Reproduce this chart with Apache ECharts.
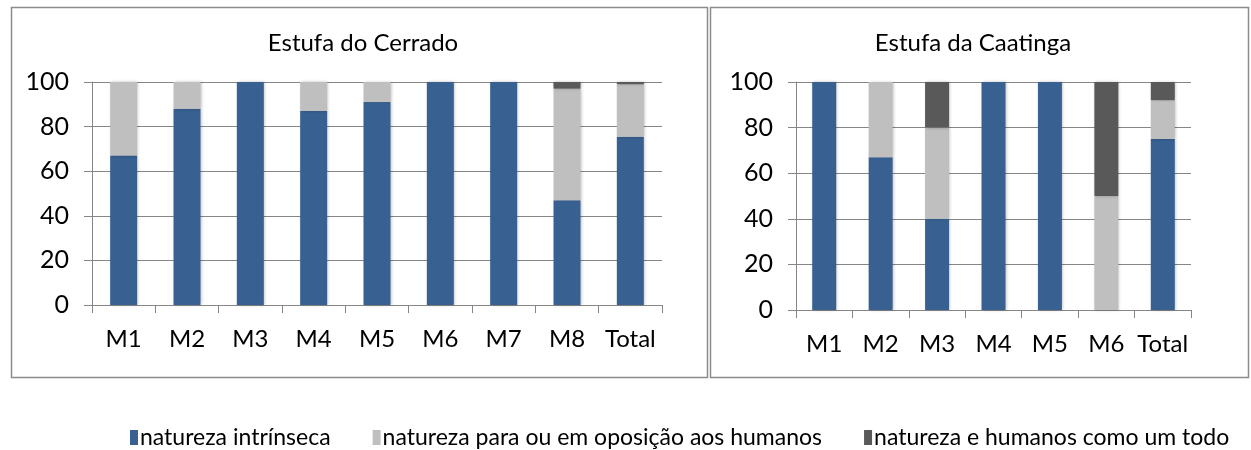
<!DOCTYPE html>
<html>
<head>
<meta charset="utf-8">
<script src="https://cdn.jsdelivr.net/npm/echarts@6/dist/echarts.min.js"></script>
<style>
  html, body { margin: 0; padding: 0; background: #fff; }
  #chart { width: 1251px; height: 450px; }
</style>
</head>
<body>
<div id="chart"></div>
<script>
// categorias
const cerradoCats = ['M1', 'M2', 'M3', 'M4', 'M5', 'M6', 'M7', 'M8', 'Total']
const caatingaCats = ['M1', 'M2', 'M3', 'M4', 'M5', 'M6', 'Total']

// séries (%)
const cerradoIntrinseca = [67, 88, 100, 87, 91, 100, 100, 47, 75.5]
const cerradoOposicao = [33, 12, 0, 13, 9, 0, 0, 50, 23.5]
const cerradoTodo = [0, 0, 0, 0, 0, 0, 0, 3, 1]

const caatingaIntrinseca = [100, 67, 40, 100, 100, 0, 75]
const caatingaOposicao = [0, 33, 40, 0, 0, 50, 17]
const caatingaTodo = [0, 0, 20, 0, 0, 50, 8]

const yTicks = [0, 20, 40, 60, 80, 100]

const seriesNames = ['natureza intrínseca', 'natureza para ou em oposição aos humanos', 'natureza e humanos como um todo']
const colors = ['#386192', '#bfbfbf', '#595959']

const font = 'Lato, "Open Sans", sans-serif'
const axisGray = '#868686'

const makeX = (cats, idx) => ({
  type: 'category',
  gridIndex: idx,
  data: cats,
  axisLine: { lineStyle: { color: axisGray } },
  axisTick: { show: true, length: 8, lineStyle: { color: axisGray } },
  axisLabel: { color: '#000', fontSize: 24, fontFamily: font, margin: 22, interval: 0 }
})

const makeY = (idx) => ({
  type: 'value',
  gridIndex: idx,
  min: 0,
  max: 100,
  interval: 20,
  axisLine: { show: true, lineStyle: { color: axisGray } },
  axisTick: { show: true, length: 8, lineStyle: { color: axisGray } },
  splitLine: { lineStyle: { color: axisGray } },
  axisLabel: { color: '#000', fontSize: 25, fontFamily: font, margin: 23,
    formatter: (v) => (yTicks.includes(v) ? String(v) : '') }
})

const makeBar = (name, data, idx, stack, ci, width) => ({
  name,
  type: 'bar',
  xAxisIndex: idx,
  yAxisIndex: idx,
  stack,
  data,
  barWidth: width,
  itemStyle: { color: colors[ci], shadowColor: 'rgba(0,0,0,0.25)', shadowBlur: 3, shadowOffsetX: 1 }
})

const chart = echarts.init(document.getElementById('chart'))
chart.setOption({
  animation: false,
  title: [
    { text: 'Estufa do Cerrado', left: 358, top: 26, textAlign: 'center',
      textStyle: { fontSize: 24, fontWeight: 'normal', color: '#000', fontFamily: font } },
    { text: 'Estufa da Caatinga', left: 968, top: 26, textAlign: 'center',
      textStyle: { fontSize: 24, fontWeight: 'normal', color: '#000', fontFamily: font } }
  ],
  legend: {
    data: seriesNames,
    top: 421,
    left: 125,
    icon: 'rect',
    itemWidth: 8,
    itemHeight: 15,
    itemGap: 42,
    textStyle: { fontSize: 23, color: '#000', fontFamily: font, padding: [0, 0, 0, -3] }
  },
  graphic: [
    { type: 'rect', shape: { x: 11.5, y: 7.5, width: 696, height: 370 },
      style: { fill: 'none', stroke: '#8c8c8c', lineWidth: 1.5 } },
    { type: 'rect', shape: { x: 710.5, y: 7.5, width: 538, height: 370 },
      style: { fill: 'none', stroke: '#8c8c8c', lineWidth: 1.5 } }
  ],
  grid: [
    { left: 92, top: 82, width: 570, height: 223 },
    { left: 796, top: 82, width: 395, height: 228 }
  ],
  xAxis: [makeX(cerradoCats, 0), makeX(caatingaCats, 1)],
  yAxis: [makeY(0), makeY(1)],
  series: [
    makeBar(seriesNames[0], cerradoIntrinseca, 0, 'c', 0, 27),
    makeBar(seriesNames[1], cerradoOposicao, 0, 'c', 1, 27),
    makeBar(seriesNames[2], cerradoTodo, 0, 'c', 2, 27),
    makeBar(seriesNames[0], caatingaIntrinseca, 1, 'k', 0, 24),
    makeBar(seriesNames[1], caatingaOposicao, 1, 'k', 1, 24),
    makeBar(seriesNames[2], caatingaTodo, 1, 'k', 2, 24)
  ]
})
</script>
</body>
</html>
